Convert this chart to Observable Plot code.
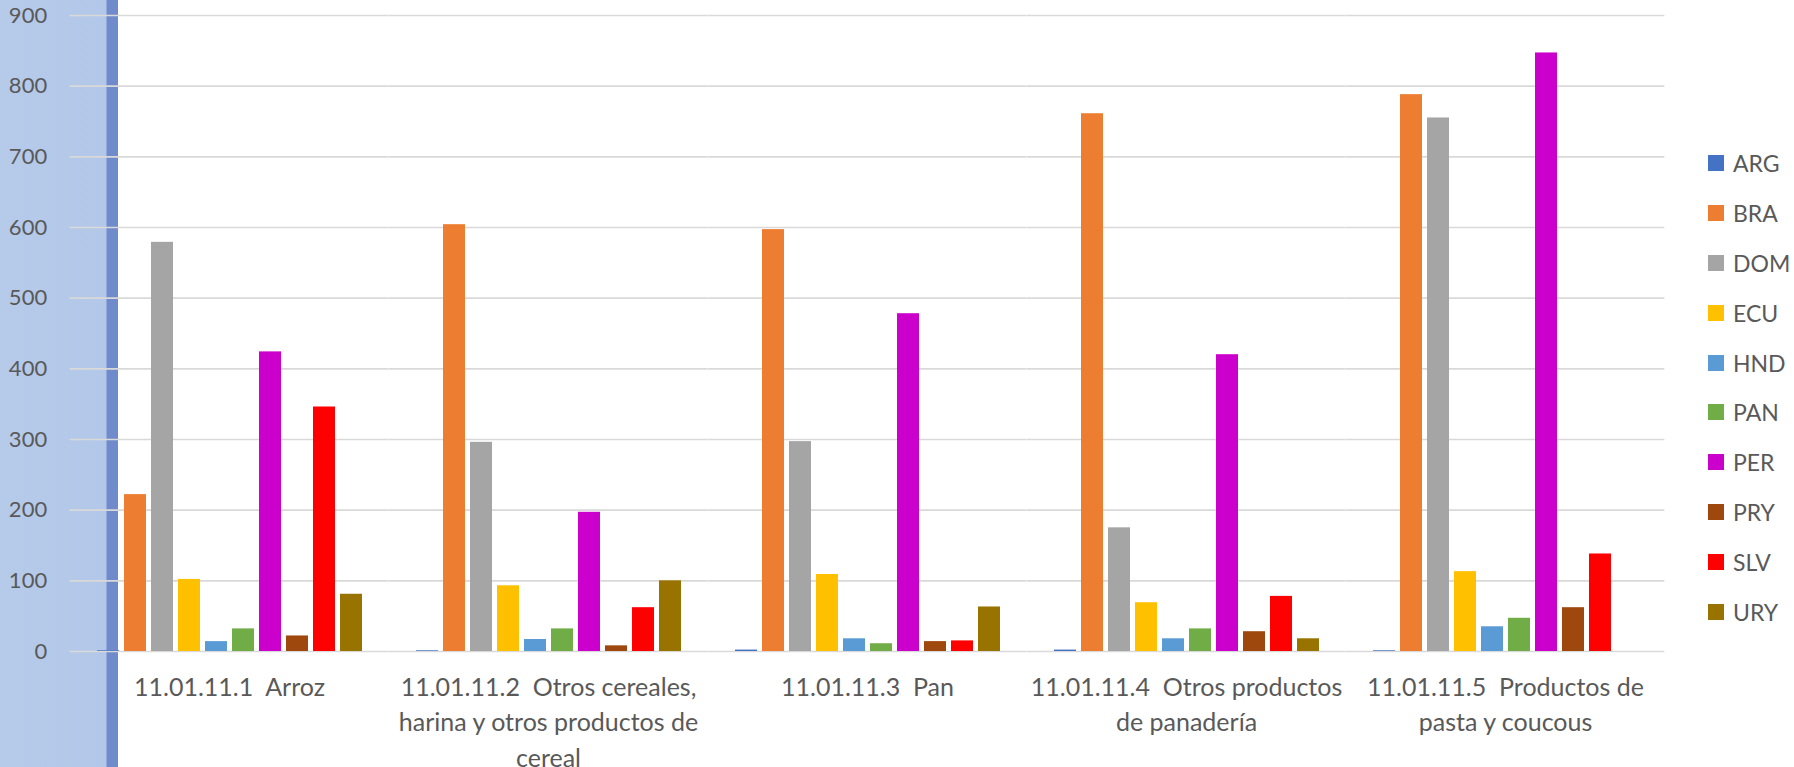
<!DOCTYPE html>
<html>
<head>
<meta charset="utf-8">
<script src="https://cdn.jsdelivr.net/npm/d3@7"></script>
<script src="https://cdn.jsdelivr.net/npm/@observablehq/plot@0.6"></script>
<style>
  html, body { margin: 0; padding: 0; background: #fff; }
  #wrap {
    position: relative; width: 1794px; height: 767px; overflow: hidden;
    background: linear-gradient(to right, #b6caea 0px, #b3c7e8 106px, #6f8bcb 107px, #6f8bcb 118px, #ffffff 118px);
    font-family: Lato, "Noto Sans", sans-serif;
  }
  #chart svg text { white-space: pre; }
  #legend { position: absolute; left: 1708px; top: 138px; }
  .row { height: 49.9px; display: flex; align-items: center; font-size: 23px; color: #595959; }
  .sw { width: 16px; height: 16px; margin-right: 9px; }
</style>
</head>
<body>
<div id="wrap"><div id="chart"></div><div id="legend"></div></div>
<script>
const categories = [
  "11.01.11.1  Arroz",
  "11.01.11.2  Otros cereales,\nharina y otros productos de\ncereal",
  "11.01.11.3  Pan",
  "11.01.11.4  Otros productos\nde panadería",
  "11.01.11.5  Productos de\npasta y coucous"
];
const countries = ["ARG", "BRA", "DOM", "ECU", "HND", "PAN", "PER", "PRY", "SLV", "URY"];
const colors = ["#4472C4", "#ED7D31", "#A5A5A5", "#FFC000", "#5B9BD5", "#70AD47", "#CC00CC", "#9E480E", "#FF0000", "#997300"];
const ARG = [1, 1, 2, 2, 1];
const BRA = [222, 604, 597, 761, 788];
const DOM = [579, 296, 297, 175, 755];
const ECU = [102, 93, 109, 69, 113];
const HND = [14, 17, 18, 18, 35];
const PAN = [32, 32, 11, 32, 47];
const PER = [424, 197, 478, 420, 847];
const PRY = [22, 8, 14, 28, 62];
const SLV = [346, 62, 15, 78, 138];
const URY = [81, 100, 63, 18, 0];
const yTicks = [0, 100, 200, 300, 400, 500, 600, 700, 800, 900];

const series = {ARG, BRA, DOM, ECU, HND, PAN, PER, PRY, SLV, URY};
const data = [];
categories.forEach((g, i) => countries.forEach(c => data.push({group: g, country: c, value: series[c][i]})));

const fxPadInner = 0.14, fxPadOuter = 0.07;
const W = 1794, H = 767, mL = 69, mR = 129, mT = 15, mB = 116;
const step = (W - mL - mR) / (categories.length - fxPadInner + 2 * fxPadOuter);
const outer = step * fxPadOuter;

const chart = Plot.plot({
  width: W, height: H,
  marginLeft: mL, marginRight: mR, marginTop: mT, marginBottom: mB,
  style: {background: "transparent", fontFamily: "Lato, 'Noto Sans', sans-serif"},
  fx: {domain: categories, paddingInner: fxPadInner, paddingOuter: fxPadOuter, axis: null, label: null},
  x: {domain: countries, paddingInner: 0.2, paddingOuter: 0, axis: null},
  y: {domain: [0, 900], axis: null},
  color: {domain: countries, range: colors},
  marks: [
    Plot.ruleY(yTicks, {y: d => d, stroke: "#d9d9d9", strokeWidth: 1.6, insetLeft: -outer, insetRight: -outer}),
    Plot.barY(data, {fx: "group", x: "country", y: "value", fill: "country"}),
    Plot.text(yTicks, {fx: () => categories[0], y: d => d, text: d => String(d), frameAnchor: "left", dx: -(mL + outer - 46), textAnchor: "end", fontSize: 22, fill: "#595959"}),
    Plot.text(categories, {fx: d => d, text: d => d, frameAnchor: "bottom", lineAnchor: "top", dy: 19, lineHeight: 1.42, fontSize: 25, fill: "#595959"})
  ]
});
document.getElementById("chart").appendChild(chart);

const legend = document.getElementById("legend");
countries.forEach((c, i) => {
  const row = document.createElement("div");
  row.className = "row";
  const sw = document.createElement("div");
  sw.className = "sw";
  sw.style.background = colors[i];
  const t = document.createElement("span");
  t.textContent = c;
  row.appendChild(sw); row.appendChild(t);
  legend.appendChild(row);
});
</script>
</body>
</html>
